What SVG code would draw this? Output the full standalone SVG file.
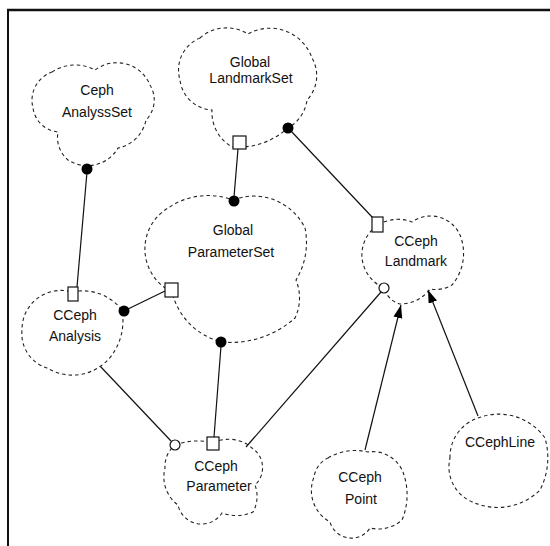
<svg xmlns="http://www.w3.org/2000/svg" width="550" height="546" viewBox="0 0 550 546">
<style>
.cloud{fill:none;stroke:#222;stroke-width:1.1;stroke-dasharray:3.5 3}
.lbl{font-family:"Liberation Sans",Arial,sans-serif;font-size:14px;fill:#111;text-anchor:middle}
.conn{fill:none;stroke:#111;stroke-width:1.2}
.dot{fill:#000}
.sq{fill:#fff;stroke:#111;stroke-width:1.2}
.ring{fill:#fff;stroke:#111;stroke-width:1.2}
.frame{stroke:#111;fill:none}
</style>
<defs>
<marker id="arr" markerWidth="13" markerHeight="9" refX="13" refY="4.5" orient="auto" markerUnits="userSpaceOnUse">
<path d="M0,0 L13,4.5 L0,9 Z" fill="#000"/>
</marker>
</defs>
<rect width="550" height="546" fill="#fff"/>
<line class="frame" x1="7" y1="10" x2="550" y2="10" stroke-width="2.5"/>
<line class="frame" x1="8" y1="9" x2="8" y2="546" stroke-width="2"/>

<g id="connectors">
<line class="conn" x1="87" y1="172" x2="77" y2="287"/>
<line class="conn" x1="238" y1="149" x2="234" y2="197"/>
<line class="conn" x1="291" y1="131" x2="373" y2="218"/>
<line class="conn" x1="128" y1="309" x2="165" y2="291"/>
<line class="conn" x1="221" y1="346" x2="214" y2="437"/>
<line class="conn" x1="100" y1="366" x2="171" y2="441"/>
<line class="conn" x1="246" y1="447" x2="381" y2="292"/>
<line class="conn" x1="365" y1="450" x2="401" y2="305" marker-end="url(#arr)"/>
<line class="conn" x1="478" y1="416" x2="428" y2="290" marker-end="url(#arr)"/>
</g>

<g id="ceph-analysisset">
<path class="cloud" d="M52,72 A41.5,41.5 0 0 1 95,70 A36,36 0 0 1 150,85 A28.5,28.5 0 0 1 146,120 A35.7,35.7 0 0 1 118,148 A35.5,35.5 0 0 1 68,160 A29.5,29.5 0 0 1 58,132 A28,28 0 0 1 33,108 A30,30 0 0 1 52,72 Z"/>
<text class="lbl" x="97" y="95">Ceph</text>
<text class="lbl" x="97" y="117">AnalyssSet</text>
<circle class="dot" cx="87" cy="169" r="5.5"/>
</g>

<g id="global-landmarkset">
<path class="cloud" d="M200,38 A40,40 0 0 1 248,34 A44.5,44.5 0 0 1 312,58 A35.4,35.4 0 0 1 307,100 A37.7,37.7 0 0 1 288,128 A75.5,75.5 0 0 1 232,147 A40,40 0 0 1 212,110 A34,34 0 0 1 180,80 A34.5,34.5 0 0 1 200,38 Z"/>
<text class="lbl" x="250" y="67">Global</text>
<text class="lbl" x="251" y="83">LandmarkSet</text>
<rect class="sq" x="233" y="136" width="13" height="13"/>
<circle class="dot" cx="288" cy="128" r="5.5"/>
</g>

<g id="global-parameterset">
<path class="cloud" d="M233,200 A57,57 0 0 1 305,228 A72,72 0 0 1 296,280 A47,47 0 0 1 295,318 A96,96 0 0 1 222,342 A67.5,67.5 0 0 1 172,292 A47.8,47.8 0 0 1 168,208 A71,71 0 0 1 233,200 Z"/>
<text class="lbl" x="233" y="235">Global</text>
<text class="lbl" x="231" y="257">ParameterSet</text>
<circle class="dot" cx="234" cy="201" r="5.5"/>
<circle class="dot" cx="221" cy="342" r="5.5"/>
<rect class="sq" x="165" y="283" width="13" height="14"/>
</g>

<g id="cceph-analysis">
<path class="cloud" d="M72,292 A50,50 0 0 1 122,310 A59,59 0 0 1 114,352 A49,49 0 0 1 47,368 A36,36 0 0 1 22,330 A39,39 0 0 1 72,292 Z"/>
<text class="lbl" x="75" y="320">CCeph</text>
<text class="lbl" x="75" y="341">Analysis</text>
<rect class="sq" x="68" y="287" width="10" height="14"/>
<circle class="dot" cx="124" cy="311" r="5.5"/>
</g>

<g id="cceph-landmark">
<path class="cloud" d="M378,225 A38,38 0 0 1 412,222 A32,32 0 0 1 460,235 A49,49 0 0 1 452,285 A32,32 0 0 1 430,289 A37,37 0 0 1 400,304 A23,23 0 0 1 384,288 A37,37 0 0 1 362,258 A36,36 0 0 1 378,225 Z"/>
<text class="lbl" x="416" y="246">CCeph</text>
<text class="lbl" x="416" y="266">Landmark</text>
<rect class="sq" x="372" y="217" width="11" height="15"/>
<circle class="ring" cx="384" cy="288" r="5"/>
</g>

<g id="cceph-parameter">
<path class="cloud" d="M175,445 A62,62 0 0 1 213,443 A35,35 0 0 1 252,448 A23.6,23.6 0 0 1 255,485 A32,32 0 0 1 253,512 A41.5,41.5 0 0 1 222,513 A24.2,24.2 0 0 1 178,505 A35,35 0 0 1 165,468 A27.5,27.5 0 0 1 175,445 Z"/>
<text class="lbl" x="216" y="471">CCeph</text>
<text class="lbl" x="219" y="491">Parameter</text>
<circle class="ring" cx="175" cy="445" r="5"/>
<rect class="sq" x="207" y="437" width="12" height="13"/>
</g>

<g id="cceph-point">
<path class="cloud" d="M328,458 A53,53 0 0 1 368,452 A32.5,32.5 0 0 1 404,475 A65,65 0 0 1 402,520 A36,36 0 0 1 370,528 A22.2,22.2 0 0 1 330,522 A36,36 0 0 1 314,477 A25,25 0 0 1 328,458 Z"/>
<text class="lbl" x="360" y="482">CCeph</text>
<text class="lbl" x="361" y="504">Point</text>
</g>

<g id="ccephline">
<path class="cloud" d="M450,458 A41,41 0 0 1 478,418 A57,57 0 0 1 545,438 A70.6,70.6 0 0 1 540,490 A60,60 0 0 1 475,503 A38,38 0 0 1 450,458 Z"/>
<text class="lbl" x="500" y="447">CCephLine</text>
</g>
</svg>
